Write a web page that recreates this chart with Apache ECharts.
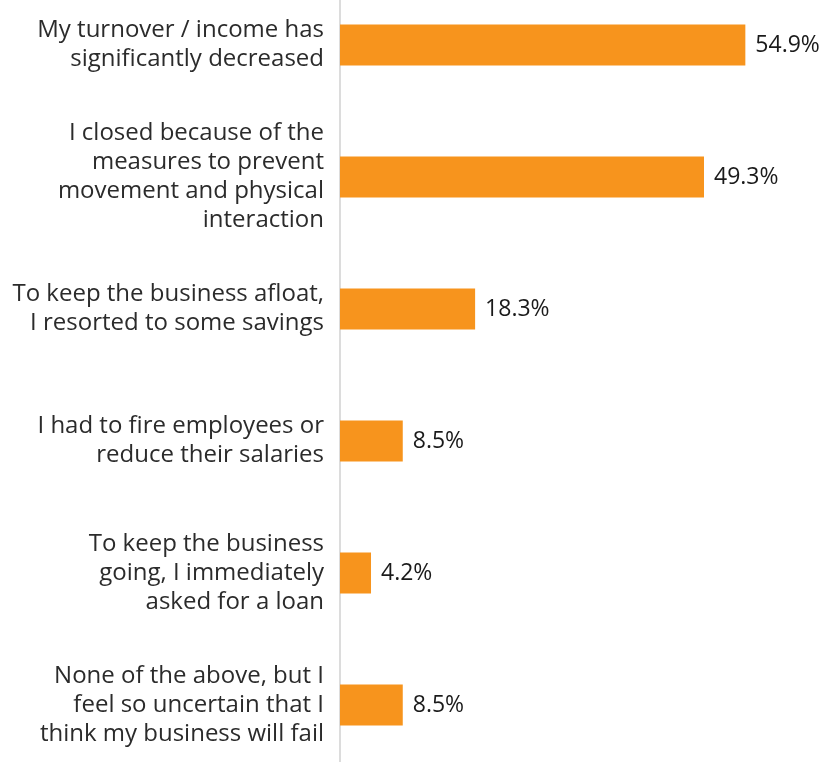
<!DOCTYPE html>
<html>
<head>
<meta charset="utf-8">
<script src="https://cdn.jsdelivr.net/npm/echarts@6/dist/echarts.min.js"></script>
<style>
  html, body { margin: 0; padding: 0; background: #ffffff; overflow: hidden; }
  /* plot area runs slightly past the page top and bottom */
  #chart { width: 833px; height: 792px; margin-top: -21px; }
</style>
</head>
<body>
<div id="chart"></div>
<script>
// Impact reported by businesses (share of respondents, %)
const categories = [
  "My turnover / income has\nsignificantly decreased",
  "I closed because of the\nmeasures to prevent\nmovement and physical\ninteraction",
  "To keep the business afloat,\nI resorted to some savings",
  "I had to fire employees or\nreduce their salaries",
  "To keep the business\ngoing, I immediately\nasked for a loan",
  "None of the above, but I\nfeel so uncertain that I\nthink my business will fail"
];
const values = [54.9, 49.3, 18.3, 8.5, 4.2, 8.5];

const chart = echarts.init(document.getElementById('chart'), null, { renderer: 'canvas' });

chart.setOption({
  animation: false,
  grid: { left: 340, right: 50, top: 0, bottom: 0, containLabel: false },
  xAxis: {
    type: 'value',
    min: 0,
    max: 60,
    show: false
  },
  yAxis: {
    type: 'category',
    inverse: true,
    data: categories,
    axisLine: { show: true, lineStyle: { color: '#d0d0d0', width: 1.5 } },
    axisTick: { show: false },
    splitLine: { show: false },
    axisLabel: {
      margin: 16,
      fontFamily: 'Open Sans',
      fontSize: 24,
      lineHeight: 29,
      color: '#2b2b2b',
      align: 'right'
    }
  },
  series: [{
    type: 'bar',
    data: values,
    barWidth: 41,
    itemStyle: { color: '#F7941D' },
    label: {
      show: true,
      position: 'right',
      distance: 10,
      fontFamily: 'Open Sans',
      fontSize: 23,
      color: '#1a1a1a',
      formatter: p => p.value.toFixed(1) + '%'
    }
  }]
});
</script>
</body>
</html>
